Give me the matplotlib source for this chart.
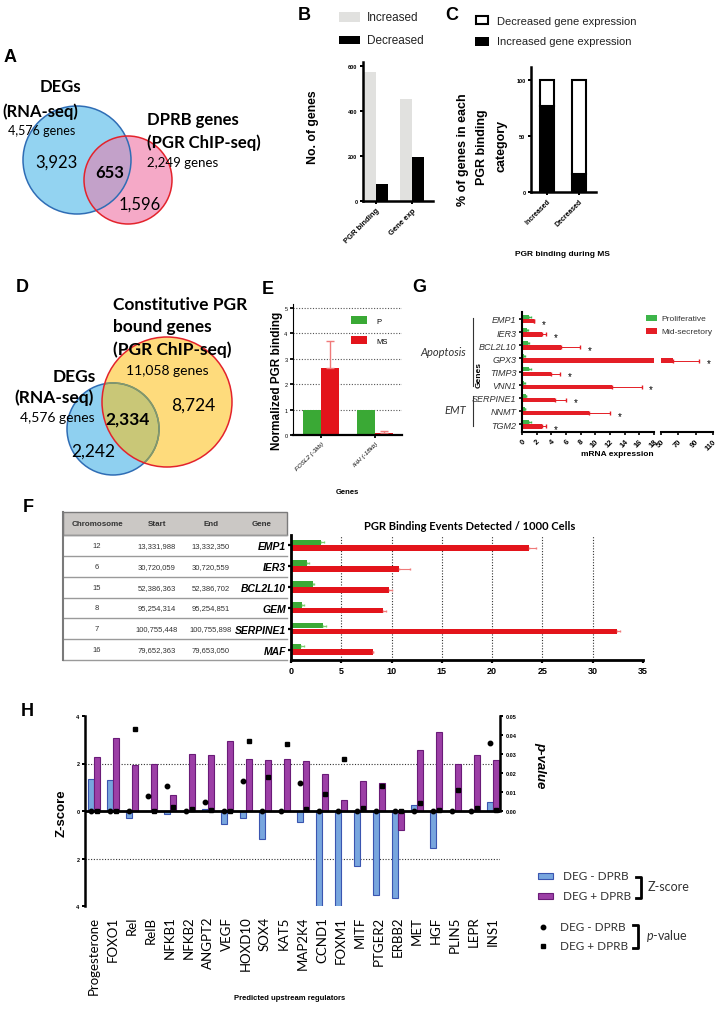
import matplotlib
matplotlib.use("Agg")
import matplotlib.pyplot as plt
from matplotlib.patches import Circle, Rectangle
import numpy as np

plt.rcParams['font.family'] = ['Liberation Sans', 'DejaVu Sans']
plt.rcParams['mathtext.fontset'] = 'custom'
plt.rcParams['mathtext.it'] = 'Lato:italic'
plt.rcParams['mathtext.rm'] = 'Lato'
CAL = ['Lato', 'DejaVu Sans']

# ---- data ----
A_COUNTS = ["3,923", "653", "1,596"]
A_TOTALS = ["4,576 genes", "2,249 genes"]
D_COUNTS = ["2,242", "2,334", "8,724"]
D_TOTALS = ["4,576 genes", "11,058 genes"]

B_CATS = ["PGR binding", "Gene exp"]
B_INC = [575, 455]
B_DEC = [78, 198]

C_CATS = ["Increased", "Decreased"]
C_INC_EXPR = [77, 16]
C_DEC_EXPR = [23, 84]

E_CATS = ["FOSL2 (-3kb)", "IHH (-18kb)"]
E_P = [1.0, 1.0]
E_MS = [2.62, 0.08]
E_MS_ERR = [1.1, 0.08]

G_GENES = ["EMP1", "IER3", "BCL2L10", "GPX3", "TIMP3", "VNN1", "SERPINE1", "NNMT", "TGM2"]
G_PRO = [1.0, 0.7, 0.8, 0.3, 1.0, 0.3, 0.5, 0.4, 1.0]
G_PRO_ERR = [0.2, 0.1, 0.1, 0.05, 0.2, 0.05, 0.1, 0.05, 0.2]
G_MS = [1.6, 2.7, 5.3, 64, 4.0, 12.3, 4.5, 9.2, 2.7]
G_MS_ERR = [0.0, 0.6, 2.6, 30, 1.2, 4.0, 1.5, 2.8, 0.6]

F_CHROM = ["12", "6", "15", "8", "7", "16"]
F_START = ["13,331,988", "30,720,059", "52,386,363", "95,254,314", "100,755,448", "79,652,363"]
F_END = ["13,332,350", "30,720,559", "52,386,702", "95,254,851", "100,755,898", "79,653,050"]
F_GENES = ["EMP1", "IER3", "BCL2L10", "GEM", "SERPINE1", "MAF"]
F_P = [3.0, 1.6, 2.2, 1.1, 3.2, 1.0]
F_P_ERR = [0.3, 0.2, 0.1, 0.2, 0.3, 0.3]
F_MS = [23.7, 10.7, 9.7, 9.1, 32.4, 8.2]
F_MS_ERR = [0.7, 1.1, 0.3, 0.3, 0.3, 0.0]

H_REG = ["Progesterone", "FOXO1", "Rel", "RelB", "NFKB1", "NFKB2", "ANGPT2", "VEGF",
         "HOXD10", "SOX4", "KAT5", "MAP2K4", "CCND1", "FOXM1", "MITF", "PTGER2",
         "ERBB2", "MET", "HGF", "PLIN5", "LEPR", "INS1"]
H_Z_MINUS = [1.33, 1.31, -0.28, 0, -0.14, 0, 0.1, -0.56, -0.31, -1.19, 0, -0.46,
             -4.5, -4.5, -2.32, -3.52, -3.66, 0.26, -1.56, 0, 0, 0.37]
H_Z_PLUS = [2.29, 3.09, 1.92, 1.99, 0.69, 2.39, 2.34, 2.93, 2.2, 2.16, 2.19, 2.12,
            1.57, 0.46, 1.25, 1.2, -0.8, 2.58, 3.34, 1.96, 2.37, 2.15]
H_P_MINUS = [0, 0, 0, 0.0079, 0.0132, 0, 0.0047, 0, 0.0158, 0, 0, 0.0146,
             0, 0, 0, 0, 0, 0, 0, 0, 0, 0.0357]
H_P_PLUS = [0, 0, 0.0433, 0, 0.0021, 0.0012, 0.0005, 0, 0.0368, 0.0181, 0.0354, 0.0009,
            0.0089, 0.0275, 0.0018, 0.0129, 0, 0.0043, 0.0003, 0.0112, 0.0016, 0.0005]

# ---- layout helpers (pixel coords, y down) ----
W, H = 727, 1012
fig = plt.figure(figsize=(W / 100, H / 100), dpi=100)
fig.patch.set_facecolor('white')

ov = fig.add_axes([0, 0, 1, 1])
ov.set_xlim(0, W)
ov.set_ylim(H, 0)
ov.axis('off')


def axpx(l, t, r, b):
    a = fig.add_axes([l / W, 1 - b / H, (r - l) / W, (b - t) / H])
    a.set_facecolor('none')
    return a


def gp(ax, lw=1.6):
    for s in ['top', 'right']:
        ax.spines[s].set_visible(False)
    for s in ['left', 'bottom']:
        ax.spines[s].set_linewidth(lw)
    ax.tick_params(width=lw * 0.8, length=2.5, labelsize=4, pad=1.5)


def t(x, y, s, **kw):
    kw.setdefault('ha', 'center')
    kw.setdefault('va', 'center')
    ov.text(x, y, s, **kw)


# panel letters
for letter, x, y in [("A", 10, 57), ("B", 304, 15), ("C", 452, 15), ("D", 22, 287),
                     ("E", 268, 289), ("F", 28, 507), ("G", 419, 287), ("H", 27, 712)]:
    t(x, y, letter, fontsize=13, fontweight='bold')

# ---- A: Venn ----
ca = Circle((77, 161), 54, fc='#93d3f1', ec='none')
cb = Circle((128, 181), 44, fc='#f5a9c7', ec='none')
ov.add_patch(ca)
ov.add_patch(cb)
ovl = Circle((77, 161), 54, fc='#c3a1c9', ec='none')
ov.add_patch(ovl)
ovl.set_clip_path(cb)
ov.add_patch(Circle((77, 161), 54, fill=False, ec='#2f6db5', lw=1.1))
ov.add_patch(Circle((128, 181), 44, fill=False, ec='#e3232c', lw=1.1))
t(60, 87, "DEGs", fontsize=12, fontweight='bold', family=CAL)
t(40, 112, "(RNA-seq)", fontsize=12, fontweight='bold', family=CAL)
t(42, 131, A_TOTALS[0], fontsize=9, family=CAL)
t(147, 120, "DPRB genes", fontsize=12, fontweight='bold', family=CAL, ha='left')
t(147, 143, "(PGR ChIP-seq)", fontsize=12, fontweight='bold', family=CAL, ha='left')
t(147, 163, A_TOTALS[1], fontsize=9.5, family=CAL, ha='left')
t(56, 163, A_COUNTS[0], fontsize=12, family=CAL)
t(110, 173, A_COUNTS[1], fontsize=12, fontweight='bold', family=CAL)
t(140, 205, A_COUNTS[2], fontsize=12, family=CAL)

# ---- D: Venn ----
cd1 = Circle((113, 430), 46, fc='#8fd0f0', ec='none')
cd2 = Circle((167, 403), 65, fc='#fedb7c', ec='none')
ov.add_patch(cd1)
ov.add_patch(cd2)
ovd = Circle((113, 430), 46, fc='#c9c777', ec='none')
ov.add_patch(ovd)
ovd.set_clip_path(cd2)
ov.add_patch(Circle((113, 430), 46, fill=False, ec='#2f6db5', lw=1.1))
inner = Circle((113, 430), 46, fill=False, ec='#8a9a60', lw=1.1)
ov.add_patch(inner)
inner.set_clip_path(cd2)
ov.add_patch(Circle((167, 403), 65, fill=False, ec='#e3232c', lw=1.1))
t(113, 305, "Constitutive PGR", fontsize=12.5, fontweight='bold', family=CAL, ha='left')
t(113, 327, "bound genes", fontsize=12.5, fontweight='bold', family=CAL, ha='left')
t(113, 350, "(PGR ChIP-seq)", fontsize=12.5, fontweight='bold', family=CAL, ha='left')
t(167, 371, D_TOTALS[1], fontsize=10, family=CAL)
t(74, 377, "DEGs", fontsize=12.5, fontweight='bold', family=CAL)
t(54, 398, "(RNA-seq)", fontsize=12.5, fontweight='bold', family=CAL)
t(57, 418, D_TOTALS[0], fontsize=10, family=CAL)
t(93, 452, D_COUNTS[0], fontsize=12.5, family=CAL)
t(128, 420, D_COUNTS[1], fontsize=12.5, fontweight='bold', family=CAL)
t(193, 406, D_COUNTS[2], fontsize=12.5, family=CAL)

# ---- B ----
axb = axpx(363, 63, 433, 202)
xb = np.arange(len(B_CATS))
axb.bar(xb - 0.17, B_INC, 0.34, color='#e1e1df')
axb.bar(xb + 0.17, B_DEC, 0.34, color='black')
axb.set_xlim(-0.36, 1.58)
axb.set_ylim(0, 620)
axb.set_yticks([0, 200, 400, 600])
gp(axb, 1.8)
axb.set_xticks(xb)
axb.set_xticklabels(B_CATS, rotation=45, ha='right', rotation_mode='anchor',
                    fontsize=5.5, fontweight='bold')
for lab in axb.get_yticklabels():
    lab.set_fontweight('bold')
t(313, 127, "No. of genes", fontsize=8.8, fontweight='bold', rotation=90)
ov.add_patch(Rectangle((339, 13), 21, 10, fc='#e1e1df', ec='none'))
ov.add_patch(Rectangle((339, 37), 21, 8, fc='black', ec='none'))
t(367, 18, "Increased", fontsize=8.5, ha='left', color='#222222')
t(367, 41, "Decreased", fontsize=8.5, ha='left', color='#222222')

# ---- C ----
axc = axpx(531, 68, 596, 193)
xc = np.arange(len(C_CATS))
axc.bar(xc, C_INC_EXPR, 0.44, color='black', edgecolor='black', lw=1.5)
axc.bar(xc, C_DEC_EXPR, 0.44, bottom=C_INC_EXPR, color='white', edgecolor='black', lw=1.5)
axc.set_xlim(-0.5, 1.53)
axc.set_ylim(0, 111.6)
axc.set_yticks([0, 50, 100])
gp(axc, 1.8)
axc.set_xticks(xc)
axc.set_xticklabels(C_CATS, rotation=45, ha='right', rotation_mode='anchor',
                    fontsize=5, fontweight='bold')
for lab in axc.get_yticklabels():
    lab.set_fontweight('bold')
t(463, 150, "% of genes in each", fontsize=9, fontweight='bold', rotation=90)
t(482, 147, "PGR binding", fontsize=9, fontweight='bold', rotation=90)
t(501, 146, "category", fontsize=9, fontweight='bold', rotation=90)
t(562, 254, "PGR binding during MS", fontsize=6, fontweight='bold')
ov.add_patch(Rectangle((476, 17), 12, 8, fc='white', ec='black', lw=1.5))
ov.add_patch(Rectangle((475, 38), 14, 9, fc='black', ec='none'))
t(497, 22, "Decreased gene expression", fontsize=8, ha='left', color='#222222')
t(497, 42, "Increased gene expression", fontsize=8, ha='left', color='#222222')

# ---- E ----
axe = axpx(293, 305, 402, 436)
xe = np.arange(len(E_CATS))
axe.bar(xe - 0.167, E_P, 0.333, color='#3aa935')
axe.bar(xe + 0.167, E_MS, 0.333, color='#e3141b')
axe.errorbar(xe + 0.167, E_MS, yerr=[[0] * len(E_MS), E_MS_ERR], fmt='none',
             ecolor='#f07a7a', elinewidth=1, capsize=3, capthick=1)
axe.set_xlim(-0.52, 1.5)
axe.set_ylim(0, 5.16)
axe.set_yticks(range(6))
for yv in range(1, 6):
    axe.axhline(yv, color='#555555', lw=0.8, ls=(0, (1, 1.5)), zorder=0)
gp(axe, 1.6)
axe.spines['left'].set_linewidth(0.8)
axe.set_xticks(xe)
axe.set_xticklabels(E_CATS, rotation=45, ha='right', rotation_mode='anchor',
                    fontsize=4.5, fontstyle='italic')
t(277, 381, "Normalized PGR binding", fontsize=8.5, fontweight='bold', rotation=90)
t(347, 492, "Genes", fontsize=5.5, fontweight='bold')
ov.add_patch(Rectangle((351, 317), 16, 8, fc='#3aa935', ec='none'))
ov.add_patch(Rectangle((351, 337), 16, 8, fc='#e3141b', ec='none'))
t(376, 322, "P", fontsize=5.5, ha='left')
t(376, 342, "MS", fontsize=5.5, ha='left')

# ---- G (broken x axis) ----
yg = np.arange(len(G_GENES))
g1 = axpx(522, 313, 654, 433)
g2 = axpx(661, 313, 713, 433)
for a in (g1, g2):
    a.barh(yg - 0.16, G_PRO, 0.3, color='#3db54a',
           xerr=[[0] * len(G_PRO), G_PRO_ERR],
           error_kw=dict(ecolor='#3db54a', elinewidth=0.6, capsize=1))
    a.barh(yg + 0.17, G_MS, 0.34, color='#e41e26',
           xerr=[[0] * len(G_MS), G_MS_ERR],
           error_kw=dict(ecolor='#e41e26', elinewidth=0.7, capsize=1.2))
    a.set_ylim(8.6, -0.53)
    gp(a, 1.5)
g1.set_xlim(0, 18)
g2.set_xlim(50, 110)
g1.set_xticks(np.arange(0, 19, 2))
g2.set_xticks([50, 70, 90, 110])
g2.spines['left'].set_visible(False)
g2.set_yticks([])
g1.set_yticks(yg)
g1.set_yticklabels(G_GENES, fontsize=6.5, fontstyle='italic', color='#333333')
for a in (g1, g2):
    for lab in a.get_xticklabels():
        lab.set_rotation(45)
        lab.set_ha('right')
        lab.set_rotation_mode('anchor')
        lab.set_fontsize(5.5)
        lab.set_fontweight('bold')
for i in range(len(G_GENES)):
    end = G_MS[i] + G_MS_ERR[i]
    target = g1 if end <= 18 else g2
    target.annotate('*', xy=(end, i + 0.2), xytext=(7, -1.5), textcoords='offset points',
                    ha='center', va='center', fontsize=7, annotation_clip=False)
t(617, 454, "mRNA expression", fontsize=6, fontweight='bold')
ov.plot([473, 473], [319, 387], color='#333333', lw=0.8)
ov.plot([473, 473], [397, 427], color='#333333', lw=0.8)
t(479, 375, "Genes", fontsize=6, fontweight='bold', rotation=90)
t(466, 352, "Apoptosis", fontsize=8, fontstyle='italic', family=CAL, ha='right', color='#333333')
t(466, 410, "EMT", fontsize=8, fontstyle='italic', family=CAL, ha='right', color='#333333')
ov.add_patch(Rectangle((646, 316), 11, 6, fc='#3db54a', ec='none'))
ov.add_patch(Rectangle((646, 329), 11, 6, fc='#e41e26', ec='none'))
t(661, 319, "Proliferative", fontsize=6, ha='left', color='#333333')
t(661, 332, "Mid-secretory", fontsize=6, ha='left', color='#333333')

# ---- F: table + chart ----
row_h = (661 - 536) / 6
ov.add_patch(Rectangle((63, 513), 224, 23, fc='#cbc8c5', ec='#7a7a7a', lw=1))
for k in range(7):
    yb = 536 + k * row_h
    ov.plot([63, 287], [yb, yb], color='#9a9a9a', lw=1)
ov.plot([63, 63], [513, 661], color='#7a7a7a', lw=1.5)
for label, x in [("Chromosome", 97), ("Start", 157), ("End", 211), ("Gene", 262)]:
    t(x, 525, label, fontsize=5.8, fontweight='bold', color='#333333')
for k in range(6):
    yc = 536 + (k + 0.5) * row_h
    t(97, yc, F_CHROM[k], fontsize=5.5, color='#333333')
    t(157, yc, F_START[k], fontsize=5.5, color='#333333')
    t(211, yc, F_END[k], fontsize=5.5, color='#333333')

axf = axpx(291, 536, 643, 661)
yf = np.arange(len(F_GENES))
axf.barh(yf - 0.15, F_P, 0.26, color='#3aa935',
         xerr=[[0] * len(F_P), F_P_ERR],
         error_kw=dict(ecolor='#7ccf6f', elinewidth=0.8, capsize=1))
axf.barh(yf + 0.13, F_MS, 0.27, color='#e3141b',
         xerr=[[0] * len(F_MS), F_MS_ERR],
         error_kw=dict(ecolor='#f07a7a', elinewidth=0.8, capsize=1))
axf.set_xlim(0, 35)
axf.set_ylim(5.5, -0.5)
for xv in range(5, 35, 5):
    axf.axvline(xv, color='#333333', lw=0.8, ls=(0, (1, 1.5)), zorder=0)
gp(axf, 2)
axf.set_yticks(yf)
axf.set_yticklabels(F_GENES, fontsize=7.5, fontweight='bold', fontstyle='italic')
axf.set_xticks(range(0, 36, 5))
for lab in axf.get_xticklabels():
    lab.set_fontsize(6.5)
    lab.set_fontweight('bold')
axf.tick_params(axis='y', pad=1)
t(470, 527, "PGR Binding Events Detected / 1000 Cells", fontsize=8, fontweight='bold', family=CAL)

# ---- H ----
axh = axpx(85, 717, 500, 907)
xh = np.arange(len(H_REG))
axh.bar(xh - 0.16, H_Z_MINUS, 0.32, color='#78a6de', edgecolor='#3a55b0', lw=0.8)
axh.bar(xh + 0.16, H_Z_PLUS, 0.32, color='#9c3fa6', edgecolor='#6a1b78', lw=0.8)
axh.set_xlim(-0.47, 21.37)
axh.set_ylim(-4, 4)
axh.axhline(0, color='black', lw=2, zorder=3)
for yv in (-2, 2):
    axh.axhline(yv, color='#333333', lw=0.8, ls=(0, (1, 1.5)), zorder=0)
gp(axh, 1.8)
axh.spines['bottom'].set_visible(False)
axh.set_yticks([-4, -2, 0, 2, 4])
axh.set_yticklabels(['4', '2', '0', '2', '4'], fontweight='bold')
axh.set_xticks(xh)
axh.set_xticklabels(H_REG, rotation=90, fontsize=9.5, family=CAL)
axh.tick_params(axis='x', length=0, pad=7)

axp = axh.twinx()
axp.set_ylim(-0.05, 0.05)
axp.plot(xh - 0.16, H_P_MINUS, 'o', color='black', ms=3.2, zorder=5)
axp.plot(xh + 0.16, H_P_PLUS, 's', color='black', ms=3.2, zorder=5)
for s in ['top', 'bottom', 'left']:
    axp.spines[s].set_visible(False)
axp.spines['right'].set_linewidth(1.8)
axp.spines['right'].set_bounds(0, 0.05)
axp.set_yticks([0, 0.01, 0.02, 0.03, 0.04, 0.05])
axp.set_yticklabels(['0.00', '0.01', '0.02', '0.03', '0.04', '0.05'], fontweight='bold')
axp.tick_params(width=1.4, length=2.5, labelsize=4, pad=1.5)

t(62, 813, "Z-score", fontsize=9.5, fontweight='bold', rotation=90)
t(540, 765, "p-value", fontsize=9.5, fontweight='bold', fontstyle='italic', rotation=270)
t(290, 999, "Predicted upstream regulators", fontsize=5.5, fontweight='bold')

# H legend
ov.add_patch(Rectangle((538, 874), 15, 6, fc='#78a6de', ec='#3a55b0', lw=0.8))
ov.add_patch(Rectangle((538, 894), 15, 6, fc='#9c3fa6', ec='#6a1b78', lw=0.8))
t(563, 877, "DEG - DPRB", fontsize=8.5, family=CAL, ha='left', color='#333333')
t(563, 897, "DEG + DPRB", fontsize=8.5, family=CAL, ha='left', color='#333333')
ov.plot([636, 641, 641, 636], [878, 878, 899, 899], color='black', lw=2)
t(648, 887, "Z-score", fontsize=9, family=CAL, ha='left', color='#333333')
ov.plot([543], [928], 'o', color='black', ms=3.2)
ov.plot([543], [947], 's', color='black', ms=3.2)
t(560, 928, "DEG - DPRB", fontsize=8.5, family=CAL, ha='left', color='#333333')
t(560, 947, "DEG + DPRB", fontsize=8.5, family=CAL, ha='left', color='#333333')
ov.plot([633, 638, 638, 633], [926, 926, 949, 949], color='black', lw=2)
t(646, 936, r"$\mathit{p}$-value", fontsize=9, family=CAL, ha='left', color='#333333')

fig.savefig("out.png", dpi=100)
